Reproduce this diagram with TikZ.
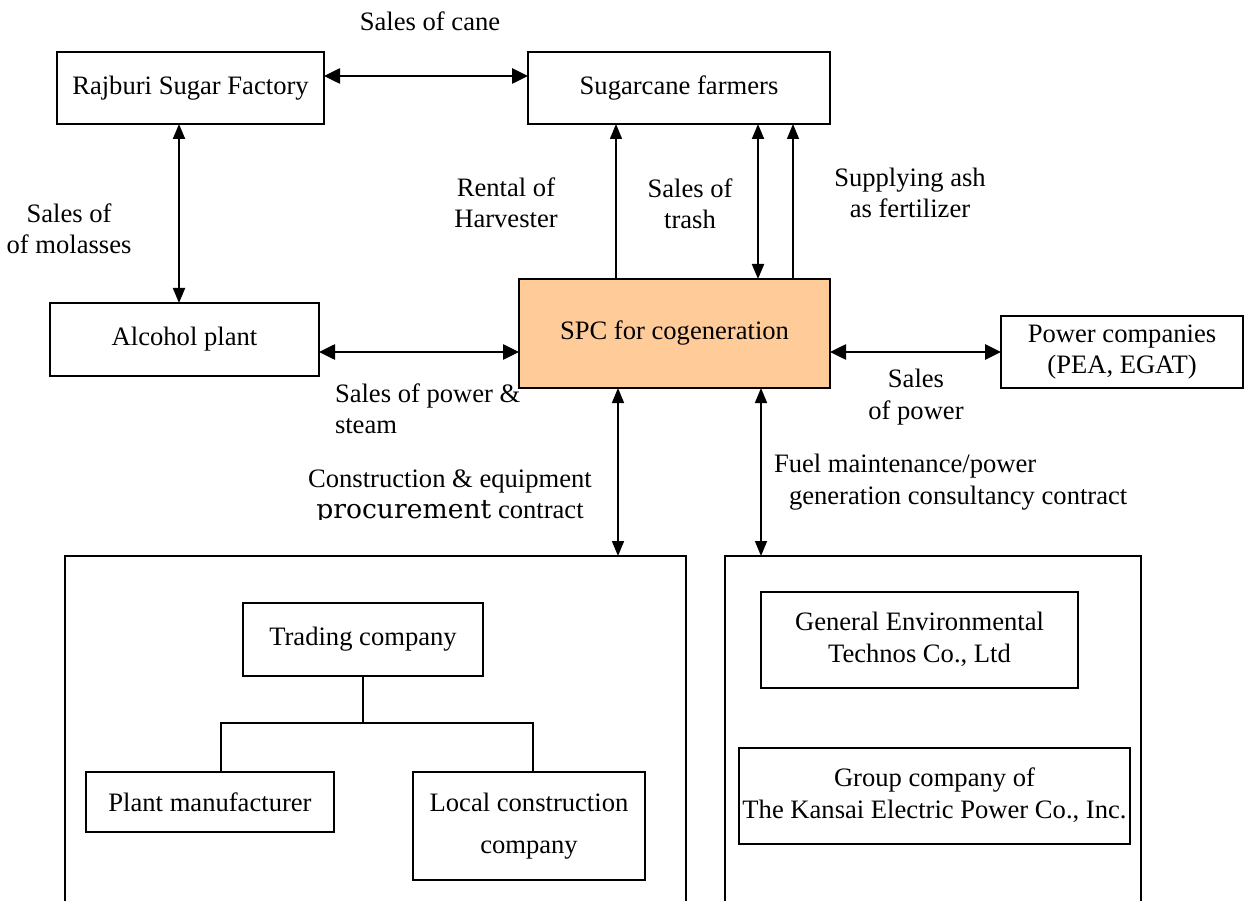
\documentclass[tikz,border=0pt]{standalone}
\usepackage{fontspec}
\setmainfont{Liberation Serif}
\newfontfamily\procfont{DejaVu Serif}
\usetikzlibrary{arrows.meta}
\definecolor{peach}{RGB}{255,204,153}
\begin{document}
\begin{tikzpicture}[x=1pt,y=-1pt,
  every node/.style={font=\fontsize{26.6pt}{31.5pt}\selectfont, inner sep=0pt, outer sep=0pt},
  box/.style={draw, line width=2.6pt, align=center},
  harrow/.style={line width=2.6pt, {Triangle[length=16pt,width=15pt]}-{Triangle[length=16pt,width=15pt]}},
  varrow/.style={line width=1.6pt, {Triangle[length=15pt,width=12pt]}-{Triangle[length=15pt,width=12pt]}},
  uparrow/.style={line width=1.4pt, -{Triangle[length=15pt,width=12pt]}},
  treeline/.style={line width=1.4pt},
  lbl/.style={align=center}
]
\useasboundingbox (0,0) rectangle (1245,901);

% top row
\node[box, minimum width=267pt, minimum height=72pt] (raj) at (190.5,88) {Rajburi Sugar Factory};
\node[box, minimum width=302pt, minimum height=72pt] (farm) at (679,88) {Sugarcane farmers};

% middle row
\node[box, minimum width=269pt, minimum height=73pt] (alc) at (184.5,339.5) {Alcohol plant};
\node[box, fill=peach, minimum width=311pt, minimum height=109pt] (spc) at (674.5,333.5) {\raisebox{7pt}{SPC for cogeneration}};
\node[box, minimum width=242pt, minimum height=72pt] (pow) at (1122,352) {Power companies\\(PEA, EGAT)};

% bottom containers (open at bottom edge)
\node[draw, line width=2.6pt, anchor=north west, minimum width=621pt, minimum height=400pt] (bl) at (65,556) {};
\node[draw, line width=2.6pt, anchor=north west, minimum width=416pt, minimum height=400pt] (br) at (725,556) {};

% inner boxes
\node[box, minimum width=240pt, minimum height=73pt] (trade) at (363,639.5) {Trading company};
\node[box, minimum width=248pt, minimum height=60pt] (plant) at (210,802) {Plant manufacturer};
\node[box, minimum width=232pt, minimum height=108pt] (local) at (529,826) {\raisebox{5pt}{\begin{tabular}{@{}c@{}}Local construction\\[10pt]company\end{tabular}}};
\node[box, minimum width=317pt, minimum height=96pt] (gen) at (919.5,640) {\raisebox{4pt}{\begin{tabular}{@{}c@{}}General Environmental\\Technos Co., Ltd\end{tabular}}};
\node[box, minimum width=391pt, minimum height=96pt] (grp) at (934.5,796) {\raisebox{4pt}{\begin{tabular}{@{}c@{}}Group company of\\The Kansai Electric Power Co., Inc.\end{tabular}}};

% tree
\coordinate (tj) at (363,723);
\draw[treeline] (trade.south) -- (tj);
\draw[treeline] (221,0 |- plant.north) |- (533,0 |- tj) -- (533,0 |- local.north);

% connectors
\draw[harrow] (raj.east |- 0,76) -- (farm.west |- 0,76);
\draw[varrow, line width=2pt] (179,0 |- raj.south) -- (179,0 |- alc.north);
\draw[harrow] (alc.east |- 0,352) -- (spc.west |- 0,352);
\draw[harrow] (spc.east |- 0,352) -- (pow.west |- 0,352);
\draw[uparrow] (616,0 |- spc.north) -- (616,0 |- farm.south);
\draw[varrow, line width=2pt] (758,0 |- spc.north) -- (758,0 |- farm.south);
\draw[uparrow] (793,0 |- spc.north) -- (793,0 |- farm.south);
\draw[varrow] (618,0 |- spc.south) -- (618,0 |- bl.north);
\draw[varrow] (761,0 |- spc.south) -- (761,0 |- br.north);

% labels
\node[lbl] (lcane) at (430,21) {Sales of cane};
\node[lbl] (lmol) at (69,229) {Sales of\\of molasses};
\node[lbl] (lrent) at (506,203) {Rental of\\Harvester};
\node[lbl] (ltrash) at (690,204) {Sales of\\trash};
\node[lbl] (lash) at (910,193) {Supplying ash\\as fertilizer};
\node[align=left, anchor=west] (lsteam) at (335,409) {Sales of power \&\\steam};
\node[lbl] (lpow) at (916,397) {Sales\\of power};
\begin{scope}
\clip (0,0) rectangle (1245,519);
\node[lbl] (lcons) at (450,497) {Construction \& equipment\\{\procfont\fontsize{26.6pt}{31.5pt}\selectfont procurement} contract};
\end{scope}
\node[align=left, anchor=west] (lfuel) at (774,482) {Fuel maintenance/power\\\hspace*{15pt}generation consultancy contract};
\end{tikzpicture}
\end{document}
